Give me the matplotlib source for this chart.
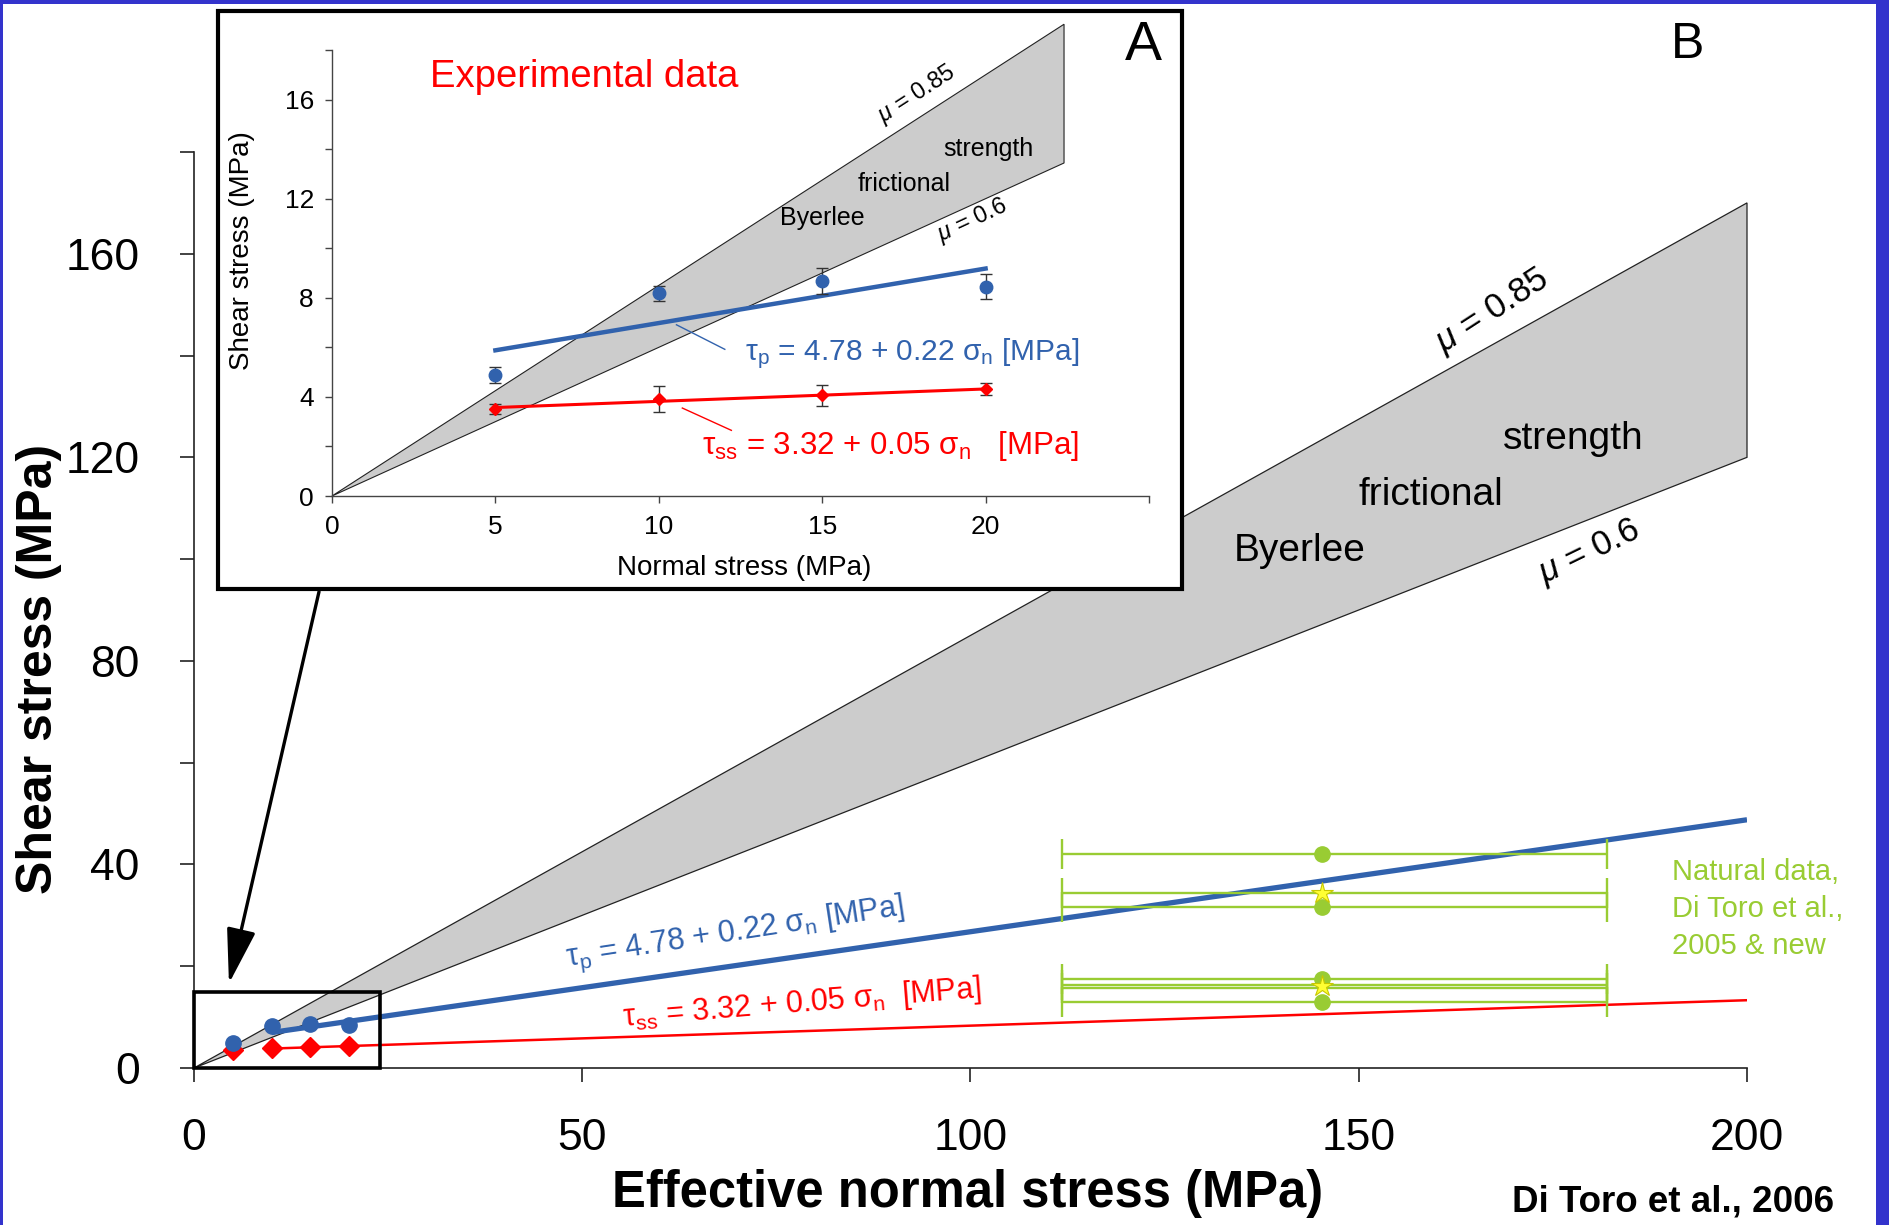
import matplotlib
matplotlib.use("Agg")
import matplotlib.pyplot as plt
import numpy as np
from matplotlib.patches import Rectangle, Polygon

plt.rcParams["font.family"] = ["Liberation Sans", "DejaVu Sans"]
plt.rcParams["mathtext.fontset"] = "custom"
plt.rcParams["mathtext.rm"] = "Liberation Sans"
plt.rcParams["mathtext.it"] = "Liberation Sans:italic"
plt.rcParams["mathtext.bf"] = "Liberation Sans:bold"

# --- data ---
SIGMA_EXP = [5, 10, 15, 20]
TAU_P_EXP = [4.89, 8.18, 8.67, 8.45]
TAU_P_ERR = [0.32, 0.30, 0.52, 0.50]
TAU_SS_EXP = [3.52, 3.91, 4.06, 4.33]
TAU_SS_ERR = [0.21, 0.54, 0.44, 0.24]

MU_LOW = 0.6
MU_HIGH = 0.85
FIT_P = (4.78, 0.22)
FIT_SS = (3.32, 0.05)
FIT_RANGE_MAIN = [10, 200]
FIT_RANGE_INSET = [5, 20]
BAND_END_MAIN = 200
BAND_END_INSET = 22.4
ZOOM_BOX = (24, 15)

NAT_SIGMA = 145.3
NAT_SIGMA_LO = 111.8
NAT_SIGMA_HI = 182.0
NAT_TAU_ROWS = [42.1, 34.4, 31.6, 17.4, 16.3, 15.7, 12.9]
NAT_TAU_CIRCLES = [42.1, 31.6, 17.4, 12.9]
NAT_TAU_STARS = [34.4, 16.1]

MAIN_XTICKS = [0, 50, 100, 150, 200]
MAIN_YTICKS = list(range(0, 181, 20))
INSET_XTICKS = [0, 5, 10, 15, 20, 25]
INSET_YTICKS = list(range(0, 19, 2))

BLUE = "#3162ad"
RED = "#ff0000"
GREEN = "#99cc33"
GRAY = "#cccccc"
FRAME = "#3333cc"

W, H = 1890, 1225


def px_box(x0, y0, x1, y1):
    return [x0 / W, 1 - y1 / H, (x1 - x0) / W, (y1 - y0) / H]


def fit(coef, xs):
    xs = np.asarray(xs, dtype=float)
    return coef[0] + coef[1] * xs


def band(ax, x_end, lw):
    verts = [(0, 0), (x_end, MU_HIGH * x_end), (x_end, MU_LOW * x_end)]
    ax.add_patch(Polygon(verts, closed=True, fc=GRAY, ec="#222222", lw=lw,
                         zorder=1, clip_on=False))


fig = plt.figure(figsize=(W / 100, H / 100), dpi=100)

# blue frame round the slide
for box in [(0, 0, W, 4), (0, 0, 3, H), (1876, 0, W, H)]:
    b = px_box(*box)
    fig.add_artist(Rectangle(b[:2], b[2], b[3], transform=fig.transFigure,
                             fc=FRAME, ec="none", zorder=10))

# ---------------- main panel (B) ----------------
ax = fig.add_axes(px_box(194, 152, 1747, 1068))
ax.set_xlim(0, 200)
ax.set_ylim(0, 180)
ax.patch.set_visible(False)
for s in ["top", "right"]:
    ax.spines[s].set_visible(False)
for s in ["left", "bottom"]:
    ax.spines[s].set_linewidth(1.2)
    ax.spines[s].set_color("#222222")
ax.set_xticks(MAIN_XTICKS)
ax.set_yticks(MAIN_YTICKS)
ax.set_yticklabels([str(v) if v % 40 == 0 and v < 180 else "" for v in MAIN_YTICKS])
ax.tick_params(axis="both", direction="out", length=10, width=1.2, labelsize=32, color="#222222")
ax.tick_params(axis="x", pad=26)
ax.tick_params(axis="y", pad=29)

band(ax, BAND_END_MAIN, 0.9)

ax.plot(FIT_RANGE_MAIN, fit(FIT_P, FIT_RANGE_MAIN), color=BLUE, lw=3.8, zorder=3,
        solid_capstyle="butt")
ax.plot(FIT_RANGE_MAIN, fit(FIT_SS, FIT_RANGE_MAIN), color=RED, lw=1.8, zorder=3)
ax.plot(SIGMA_EXP, TAU_SS_EXP, "D", color=RED, ms=10, zorder=4, clip_on=False)
ax.plot(SIGMA_EXP, TAU_P_EXP, "o", color=BLUE, ms=11, zorder=5, clip_on=False)

# natural data
for y in NAT_TAU_ROWS:
    ax.errorbar([NAT_SIGMA], [y], xerr=[[NAT_SIGMA - NAT_SIGMA_LO], [NAT_SIGMA_HI - NAT_SIGMA]],
                fmt="none", ecolor=GREEN, elinewidth=1.7, capsize=11, capthick=1.7, zorder=4)
ax.plot([NAT_SIGMA] * len(NAT_TAU_CIRCLES), NAT_TAU_CIRCLES, "o", color=GREEN, ms=11, zorder=5)
ax.plot([NAT_SIGMA] * len(NAT_TAU_STARS), NAT_TAU_STARS, "*", color="#ffff33",
        mec="#c8c800", mew=0.8, ms=16, zorder=6)

ax.add_patch(Rectangle((0, 0), ZOOM_BOX[0], ZOOM_BOX[1], fill=False, ec="black", lw=2.6,
                       zorder=6, clip_on=False))
ax.annotate("", xy=(4.5, 16.6), xytext=(16.1, 93.6),
            arrowprops=dict(arrowstyle="-|>,head_length=1.7,head_width=0.45", color="black",
                            lw=2.4, mutation_scale=20, shrinkA=0, shrinkB=0))

ax.text(142.4, 101.6, "Byerlee", fontsize=28, ha="center", va="center", zorder=7)
ax.text(159.3, 112.6, "frictional", fontsize=28, ha="center", va="center", zorder=7)
ax.text(177.6, 123.6, "strength", fontsize=28, ha="center", va="center", zorder=7)
ax.text(167.2, 148.8, r"$\mu$ = 0.85", fontsize=25, ha="center", va="center", rotation=33,
        rotation_mode="anchor", zorder=7)
ax.text(179.7, 101.4, r"$\mu$ = 0.6", fontsize=25, ha="center", va="center", rotation=26,
        rotation_mode="anchor", zorder=7)
ax.text(69.7, 26.3, "τ$_{\\mathrm{p}}$ = 4.78 + 0.22 σ$_{\\mathrm{n}}$ [MPa]", color=BLUE,
        fontsize=22, ha="center", va="center", rotation=8.7, rotation_mode="anchor", zorder=7)
ax.text(78.3, 12.6, "τ$_{\\mathrm{ss}}$ = 3.32 + 0.05 σ$_{\\mathrm{n}}$  [MPa]", color=RED,
        fontsize=22, ha="center", va="center", rotation=4.6, rotation_mode="anchor", zorder=7)

fig.text(968 / W, 1 - 1193 / H, "Effective normal stress (MPa)", fontsize=36.5,
         fontweight="bold", ha="center", va="center")
fig.text(39 / W, 1 - 669 / H, "Shear stress (MPa)", fontsize=36, fontweight="bold",
         ha="center", va="center", rotation=90)
fig.text(1672 / W, 1 - 909 / H, "Natural data,\nDi Toro et al.,\n2005 & new", color=GREEN,
         fontsize=21, ha="left", va="center", linespacing=1.42)
fig.text(1673 / W, 1 - 1202 / H, "Di Toro et al., 2006", fontsize=26.5, fontweight="bold",
         ha="center", va="center")
fig.text(1688 / W, 1 - 45 / H, "B", fontsize=36, ha="center", va="center", zorder=8)

# ---------------- inset (A) ----------------
fig.add_artist(Rectangle(px_box(218, 11, 1182, 589)[:2], (1182 - 218) / W, (589 - 11) / H,
                         transform=fig.transFigure, fc="white", ec="black", lw=3, zorder=2))

axi = fig.add_axes(px_box(332, 50, 1149, 496), zorder=5)
axi.patch.set_visible(False)
axi.set_xlim(0, 25)
axi.set_ylim(0, 18)
for s in ["top", "right"]:
    axi.spines[s].set_visible(False)
for s in ["left", "bottom"]:
    axi.spines[s].set_linewidth(1.0)
    axi.spines[s].set_color("#444444")
axi.set_xticks(INSET_XTICKS)
axi.set_xticklabels([str(v) if v < 25 else "" for v in INSET_XTICKS])
axi.set_yticks(INSET_YTICKS)
axi.set_yticklabels([str(v) if v % 4 == 0 and v < 18 else "" for v in INSET_YTICKS])
axi.tick_params(axis="both", direction="out", length=5, width=1.0, labelsize=19, color="#444444")
axi.tick_params(axis="x", pad=9)
axi.tick_params(axis="y", pad=8)

band(axi, BAND_END_INSET, 0.8)

axi.plot(FIT_RANGE_INSET, fit(FIT_P, FIT_RANGE_INSET), color=BLUE, lw=3.2, zorder=3)
axi.plot(FIT_RANGE_INSET, fit(FIT_SS, FIT_RANGE_INSET), color=RED, lw=2.2, zorder=3)
axi.errorbar(SIGMA_EXP, TAU_P_EXP, yerr=TAU_P_ERR, fmt="o", color=BLUE, ms=9, ecolor="#333333",
             elinewidth=1.0, capsize=4, capthick=1.0, zorder=4)
axi.errorbar(SIGMA_EXP, TAU_SS_EXP, yerr=TAU_SS_ERR, fmt="D", color=RED, ms=6, ecolor="#333333",
             elinewidth=1.0, capsize=4, capthick=1.0, zorder=4)

axi.plot([12.02, 10.54], [5.92, 6.91], color=BLUE, lw=1.0, zorder=3)
axi.plot([12.22, 10.72], [2.65, 3.55], color=RED, lw=1.0, zorder=3)
axi.text(17.75, 5.75, "τ$_{\\mathrm{p}}$ = 4.78 + 0.22 σ$_{\\mathrm{n}}$ [MPa]", color=BLUE,
         fontsize=21.5, ha="center", va="center")
axi.text(17.1, 2.02, "τ$_{\\mathrm{ss}}$ = 3.32 + 0.05 σ$_{\\mathrm{n}}$   [MPa]", color=RED,
         fontsize=22.5, ha="center", va="center")

axi.text(15.0, 11.2, "Byerlee", fontsize=18, ha="center", va="center")
axi.text(17.5, 12.6, "frictional", fontsize=18, ha="center", va="center")
axi.text(20.1, 14.0, "strength", fontsize=18, ha="center", va="center")
axi.text(17.9, 16.2, r"$\mu$ = 0.85", fontsize=17, ha="center", va="center", rotation=33,
         rotation_mode="anchor")
axi.text(19.6, 11.1, r"$\mu$ = 0.6", fontsize=17, ha="center", va="center", rotation=25,
         rotation_mode="anchor")
axi.text(3.0, 16.9, "Experimental data", color=RED, fontsize=27.5, ha="left", va="center")

fig.text(744 / W, 1 - 568 / H, "Normal stress (MPa)", fontsize=20, ha="center", va="center",
         zorder=8)
fig.text(242 / W, 1 - 251 / H, "Shear stress (MPa)", fontsize=20, ha="center", va="center",
         rotation=90, zorder=8)
fig.text(1143 / W, 1 - 46 / H, "A", fontsize=40, ha="center", va="center", zorder=8)

fig.savefig("out.png", dpi=100)
plt.close(fig)
